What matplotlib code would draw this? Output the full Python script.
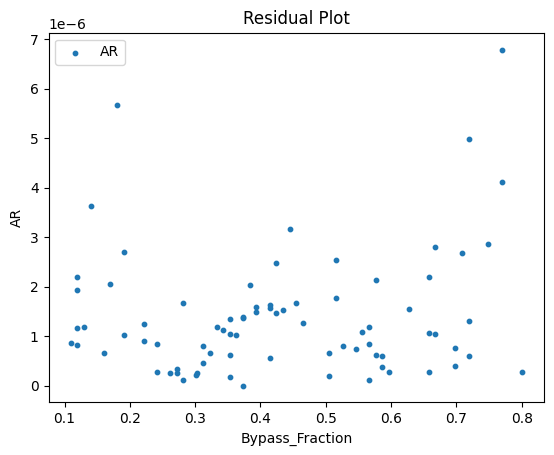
import matplotlib.pyplot as plt
import numpy as np

# Bypass_Fraction values (x)
bypass_fraction = [
    0.180, 0.140, 0.191, 0.119, 0.119, 0.169, 0.281, 0.119, 0.130, 0.221,
    0.333, 0.342, 0.110, 0.119, 0.191, 0.221, 0.241, 0.160, 0.312, 0.323,
    0.312, 0.241, 0.261, 0.272, 0.272, 0.281, 0.302, 0.303,
    0.445, 0.424, 0.516, 0.577, 0.384, 0.516, 0.454, 0.393, 0.393, 0.414,
    0.414, 0.434, 0.424, 0.373, 0.373, 0.353, 0.465, 0.353, 0.362, 0.353,
    0.414, 0.353, 0.373, 0.505, 0.505, 0.526, 0.546, 0.555, 0.566, 0.566,
    0.577, 0.586, 0.586, 0.566,
    0.667, 0.709, 0.748, 0.658, 0.627, 0.719, 0.658, 0.667, 0.698, 0.719,
    0.698, 0.597, 0.658, 0.800, 0.770, 0.719, 0.770,
]

# AR residuals (y), in units of 1e-6
ar_e6 = [
    5.66, 3.62, 2.70, 2.20, 1.94, 2.06, 1.67, 1.17, 1.19, 1.25,
    1.19, 1.13, 0.86, 0.82, 1.03, 0.90, 0.84, 0.66, 0.80, 0.66,
    0.46, 0.28, 0.26, 0.34, 0.26, 0.12, 0.21, 0.25,
    3.17, 2.48, 2.54, 2.14, 2.04, 1.77, 1.67, 1.59, 1.49, 1.63,
    1.57, 1.53, 1.47, 1.39, 1.37, 1.35, 1.27, 1.05, 1.03, 0.62,
    0.56, 0.18, 0.00, 0.66, 0.20, 0.80, 0.74, 1.09, 1.19, 0.84,
    0.62, 0.60, 0.38, 0.12,
    2.79, 2.68, 2.85, 2.20, 1.55, 1.31, 1.07, 1.05, 0.76, 0.60,
    0.40, 0.28, 0.28, 0.28, 6.79, 4.99, 4.12,
]

ar = np.array(ar_e6) * 1e-6

fig = plt.figure(figsize=(5.54, 4.55), dpi=100)
ax = fig.add_axes([48.5 / 554, 1 - 402.3 / 455, 495.8 / 554, 369.6 / 455])

ax.scatter(bypass_fraction, ar, s=10, label='AR')
ax.set_xlabel('Bypass_Fraction')
ax.set_ylabel('AR')
ax.set_title('Residual Plot')
ax.legend(loc='upper left')

fig.savefig('out.png', dpi=100)
